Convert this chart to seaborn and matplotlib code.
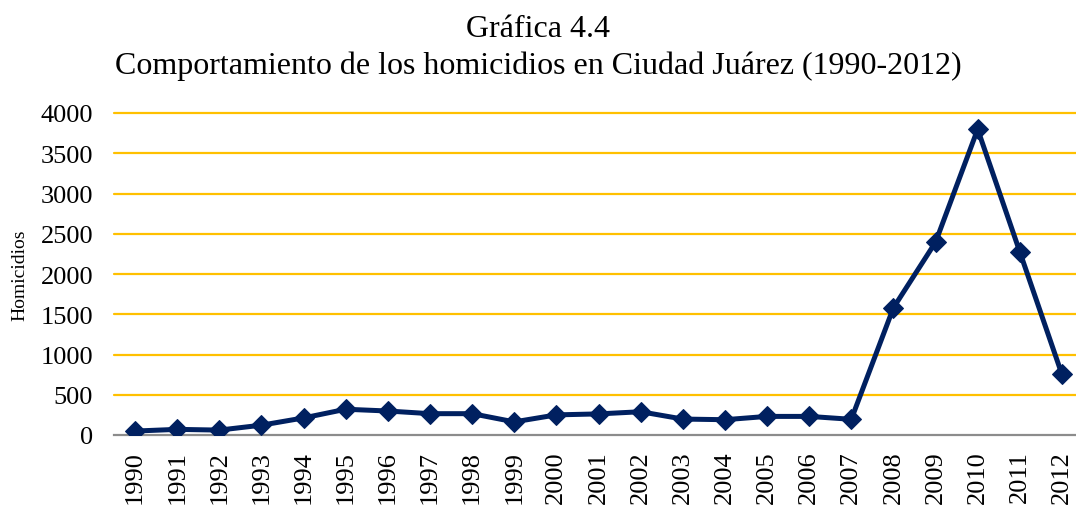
import matplotlib
matplotlib.use("Agg")
import matplotlib.pyplot as plt
import pandas as pd
import seaborn as sns

# Data
years = [str(y) for y in range(1990, 2013)]
homicidios = [49, 70, 61, 122, 212, 320, 298, 265, 265, 163, 250, 262, 289,
              198, 190, 231, 231, 195, 1580, 2395, 3798, 2275, 753]
yticks = [0, 500, 1000, 1500, 2000, 2500, 3000, 3500, 4000]

title_1 = 'Gráfica 4.4'
title_2 = 'Comportamiento de los homicidios en Ciudad Juárez (1990-2012)'
y_label = 'Homicidios'

df = pd.DataFrame({'year': years, 'value': homicidios})

sns.set_theme(style='white')
plt.rcParams['font.family'] = ['Liberation Serif', 'DejaVu Serif']
plt.rcParams['text.color'] = 'black'

fig = plt.figure(figsize=(10.76, 5.06), dpi=100)
ax = fig.add_axes([114 / 1076, 1 - 436 / 506, 969 / 1076, (436 - 114) / 506])

sns.lineplot(data=df, x='year', y='value', ax=ax, color='#002060',
             linewidth=3.6, marker='D', markersize=10.5,
             markeredgecolor='#002060', sort=False, zorder=3)

ax.set_xlim(-0.5, len(years) - 0.5)
ax.set_ylim(0, 4000)
ax.set_yticks(yticks)
ax.set_yticklabels([str(t) for t in yticks], fontsize=19, color='black')
ax.set_xticks(range(len(years)))
ax.set_xticklabels(years, rotation=90, fontsize=19, color='black')
ax.tick_params(axis='y', length=0, pad=15)
ax.tick_params(axis='x', length=0, pad=11)

# gold horizontal gridlines (Excel style)
for t in yticks[1:]:
    ax.axhline(t, color='#FFC000', linewidth=1.6, zorder=0, clip_on=False)

for side in ['top', 'right', 'left']:
    ax.spines[side].set_visible(False)
ax.spines['bottom'].set_color('#8c8c8c')
ax.spines['bottom'].set_linewidth(1.6)

ax.set_xlabel('')
ax.set_ylabel(y_label, fontsize=14, color='black')
ax.yaxis.set_label_coords(-0.088, 0.5)

fig.text(0.5, 1 - 37 / 506, title_1, ha='center', va='baseline',
         fontsize=23, color='black')
fig.text(0.5, 1 - 74 / 506, title_2, ha='center', va='baseline',
         fontsize=23, color='black')

fig.savefig('out.png', dpi=100, facecolor='white')
